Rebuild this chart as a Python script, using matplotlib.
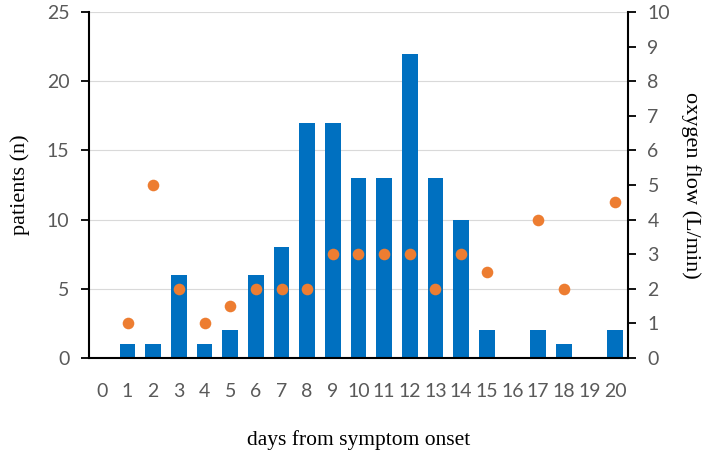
import matplotlib
matplotlib.use("Agg")
import matplotlib.pyplot as plt
import numpy as np

days = list(range(21))
patients = [0, 1, 1, 6, 1, 2, 6, 8, 17, 17, 13, 13, 22, 13, 10, 2, 0, 2, 1, 0, 2]
flow_days = [1, 2, 3, 4, 5, 6, 7, 8, 9, 10, 11, 12, 13, 14, 15, 17, 18, 20]
flow_vals = [1, 5, 2, 1, 1.5, 2, 2, 2, 3, 3, 3, 3, 2, 3, 2.5, 4, 2, 4.5]

tick_font = "Lato"
label_font = "Liberation Serif"
gray = "#595959"

fig = plt.figure(figsize=(7.09, 4.5), dpi=100)
ax = fig.add_axes([89/709, 1-358/450, (628-89)/709, (358-12)/450])
ax.bar(days, patients, width=0.6, color="#0070C0", zorder=2)
ax.set_xlim(-0.5, 20.5)
ax.set_ylim(0, 25)
ax.set_yticks(range(0, 26, 5))
ax.yaxis.grid(True, color="#D9D9D9", linewidth=0.8, zorder=0)
ax.set_xticks(days)
ax.set_xticklabels([str(d) for d in days], fontfamily=tick_font, fontsize=14, color=gray)
ax.tick_params(axis="x", length=0, pad=18)
ax.tick_params(axis="y", direction="out", length=6, width=1.3, labelsize=14, labelcolor=gray, pad=8)
for lab in ax.get_yticklabels():
    lab.set_fontfamily(tick_font)
ax.spines["top"].set_visible(False)
ax.spines["right"].set_visible(False)
for s in ["left", "bottom"]:
    ax.spines[s].set_linewidth(1.5)
ax.set_ylabel("patients (n)", fontfamily=label_font, fontsize=16, labelpad=12)
ax.set_xlabel("days from symptom onset", fontfamily=label_font, fontsize=15.5, labelpad=22)

ax2 = ax.twinx()
ax2.scatter(flow_days, flow_vals, s=70, color="#ED7D31", zorder=3, linewidths=0)
ax2.set_ylim(0, 10)
ax2.set_yticks(range(0, 11))
ax2.tick_params(axis="y", direction="out", length=6, width=1.3, labelsize=14, labelcolor=gray, pad=8)
for lab in ax2.get_yticklabels():
    lab.set_fontfamily(tick_font)
for s in ["top", "left", "bottom"]:
    ax2.spines[s].set_visible(False)
ax2.spines["right"].set_linewidth(1.5)
ax2.set_ylabel("oxygen flow (L/min)", fontfamily=label_font, fontsize=16, rotation=270, labelpad=22)

fig.savefig("out.png", dpi=100)
